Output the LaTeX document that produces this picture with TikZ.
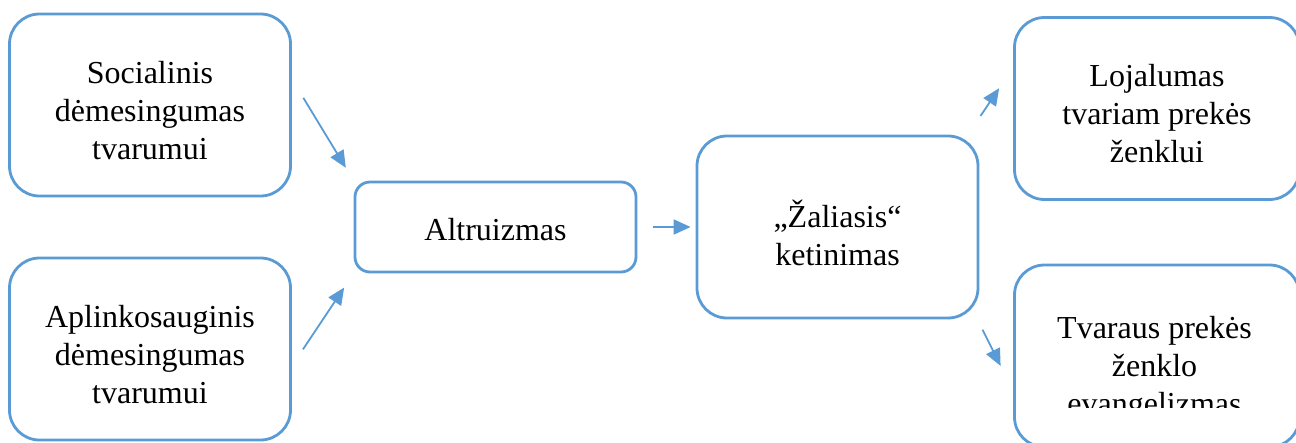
\documentclass[tikz,border=0pt]{standalone}
\usepackage{fontspec}
\setmainfont{Liberation Serif}
\usetikzlibrary{arrows.meta}
\definecolor{boxblue}{RGB}{91,155,213}
\newcommand{\topgap}[1]{\rule{0pt}{#1}}

\begin{document}
\begin{tikzpicture}[x=1pt, y=-1pt, >={Triangle[length=17pt,width=15pt]},
  every node/.style={font=\fontsize{32}{38}\selectfont},
  bigbox/.style={draw=boxblue, line width=2.8pt, rounded corners=30pt,
    minimum width=281pt, minimum height=182pt, align=center, inner sep=0pt},
  smallbox/.style={bigbox, rounded corners=15pt, minimum height=90pt},
  link/.style={->, boxblue, line width=1.8pt}]

  \useasboundingbox (0,0) rectangle (1296,442);

  %% ===================== Left column: attention =====================
  \node[bigbox] (soc) at (150,105) {\topgap{33pt}Socialinis\\dėmesingumas\\tvarumui};
  \node[bigbox] (apl) at (150,349) {\topgap{33pt}Aplinkosauginis\\dėmesingumas\\tvarumui};

  %% ===================== Middle: altruism and intention =====================
  \node[smallbox] (alt) at (495.5,227) {\topgap{28pt}Altruizmas};
  \node[bigbox]   (cen) at (837.5,227) {\topgap{40pt}„Žaliasis“\\ketinimas};

  %% ===================== Right column: outcomes =====================
  \node[bigbox, minimum width=285pt] (rt) at (1157,108.5) {\topgap{33pt}Lojalumas\\tvariam prekės\\ženklui};
  \node[bigbox, minimum width=285pt] (rb) at (1157,356) {};
  % last line is cut off in the reference
  \begin{scope}
    \clip (1000,250) rectangle (1296,407);
    \node[align=center, inner sep=0pt, yshift=-13pt] (rbtext) at (1154.5,356)
      {Tvaraus prekės\\ženklo\\evangelizmas};
  \end{scope}

  %% ===================== Connectors =====================
  \draw[link, shorten <=22pt, shorten >=15pt] ([yshift=26pt]soc.east) -- (alt.north west);
  \draw[link, shorten <=20pt, shorten >=17pt] ([yshift=-17pt]apl.east) -- (alt.south west);
  \draw[link, shorten <=16pt, shorten >=5pt] (alt.east) -- (cen.west);
  \draw[link, shorten <=2pt, shorten >=25pt] ([yshift=17pt]cen.north east) -- ([yshift=41pt]rt.west);
  \draw[link, shorten <=7pt, shorten >=28pt] ([yshift=-4pt]cen.south east) -- ([yshift=-35pt]rb.west);

\end{tikzpicture}
\end{document}
